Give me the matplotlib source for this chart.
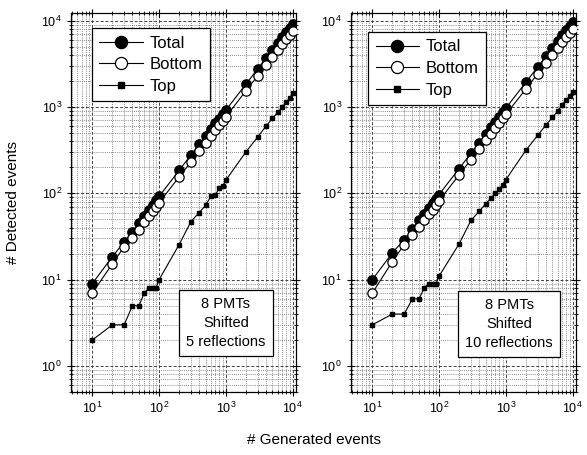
import numpy as np
import matplotlib.pyplot as plt
from matplotlib.ticker import LogLocator, NullFormatter

plt.rcParams['font.family'] = ['Liberation Sans', 'DejaVu Sans']
plt.rcParams['mathtext.fontset'] = 'custom'
plt.rcParams['mathtext.rm'] = 'Liberation Sans'

# Generated events
generated = [10, 20, 30, 40, 50, 60, 70, 80, 90,
             100, 200, 300, 400, 500, 600, 700, 800, 900,
             1000, 2000, 3000, 4000, 5000, 6000, 7000, 8000, 9000, 10000]

# 5 reflections
total_5 = [9, 18.5, 27.5, 36, 45, 55, 64, 73, 83,
           92, 185, 278, 370, 460, 550, 645, 735, 830,
           920, 1840, 2760, 3700, 4600, 5500, 6450, 7350, 8300, 9200]
bottom_5 = [7, 15.3, 24, 30, 38, 46, 54, 62, 70,
            78, 155, 230, 310, 385, 460, 540, 615, 690,
            770, 1540, 2300, 3080, 3850, 4600, 5400, 6150, 6900, 7650]
top_5 = [2, 3, 3, 5, 5, 7, 8, 8, 8,
         10, 25.5, 47, 60, 73, 93, 97, 115, 121,
         142, 302, 450, 600, 740, 870, 1000, 1140, 1260, 1440]

# 10 reflections
total_10 = [10, 20.5, 29, 39, 49, 58, 68, 78, 87,
            97, 194, 291, 388, 485, 582, 680, 776, 873,
            970, 1940, 2910, 3880, 4850, 5820, 6790, 7760, 8730, 9750]
bottom_10 = [7, 16.2, 25.5, 33, 41, 49, 57, 65, 73,
             82, 164, 246, 328, 410, 492, 574, 656, 738,
             820, 1620, 2430, 3240, 4050, 4860, 5670, 6480, 7290, 8070]
top_10 = [3, 4, 4, 6, 6, 8, 9, 9, 9,
          11, 26, 48.5, 62, 76, 88, 100, 113, 126,
          144, 316, 470, 620, 760, 900, 1070, 1200, 1340, 1500]

labels = ['8 PMTs\nShifted\n5 reflections', '8 PMTs\nShifted\n10 reflections']

fig = plt.figure(figsize=(5.87, 4.55), dpi=100)
ax1 = fig.add_axes([0.121, 0.1385, 0.383, 0.833])
ax2 = fig.add_axes([0.598, 0.1385, 0.383, 0.833])

panels = [(ax1, total_5, bottom_5, top_5, labels[0], (0.093, 0.960), (0.689, 0.182)),
          (ax2, total_10, bottom_10, top_10, labels[1], (0.076, 0.950), (0.704, 0.179))]

for ax, tot, bot, top, lab, leg_pos, txt_pos in panels:
    ax.plot(generated, tot, '-o', color='black', lw=0.8, ms=6.7,
            mfc='black', mec='black', label='Total', zorder=3)
    ax.plot(generated, bot, '-o', color='black', lw=0.8, ms=6.7,
            mfc='white', mec='black', mew=0.9, label='Bottom', zorder=4)
    ax.plot(generated, top, '-s', color='black', lw=0.8, ms=3.3,
            mfc='black', mec='black', label='Top', zorder=3)
    ax.set_xscale('log')
    ax.set_yscale('log')
    ax.set_xlim(4.8, 11200)
    ax.set_ylim(0.5, 12300)

    ax.xaxis.set_minor_locator(LogLocator(base=10, subs=np.arange(2, 10), numticks=20))
    ax.yaxis.set_minor_locator(LogLocator(base=10, subs=np.arange(2, 10), numticks=20))
    ax.xaxis.set_minor_formatter(NullFormatter())
    ax.yaxis.set_minor_formatter(NullFormatter())
    ax.tick_params(which='both', direction='inout', top=True, right=True, labelsize=9)
    ax.tick_params(which='major', length=6, width=0.8)
    ax.tick_params(which='minor', length=3.5, width=0.6)

    ax.grid(True, which='major', color='0.25', ls=(0, (3, 2)), lw=0.7)
    ax.grid(True, which='minor', color='0.4', ls=(0, (1, 1.5)), lw=0.6)
    ax.set_axisbelow(True)
    for sp in ax.spines.values():
        sp.set_linewidth(0.9)

    leg = ax.legend(loc='upper left', bbox_to_anchor=leg_pos, borderaxespad=0,
                    fontsize=12, fancybox=False, framealpha=1, edgecolor='black',
                    markerscale=1.3, handlelength=2.6, handletextpad=0.4,
                    labelspacing=0.4, borderpad=0.45)
    leg.get_frame().set_linewidth(0.9)
    leg.set_zorder(10)

    ax.text(txt_pos[0], txt_pos[1], lab, transform=ax.transAxes, ha='center',
            va='center', fontsize=10.5, linespacing=1.45, zorder=10,
            bbox=dict(boxstyle='square,pad=0.5', fc='white', ec='black', lw=0.9))

fig.text(0.535, 0.033, '# Generated events', ha='center', va='center', fontsize=11)
fig.text(0.022, 0.555, '# Detected events', ha='center', va='center',
         rotation=90, fontsize=11)

fig.savefig('out.png', dpi=100)
